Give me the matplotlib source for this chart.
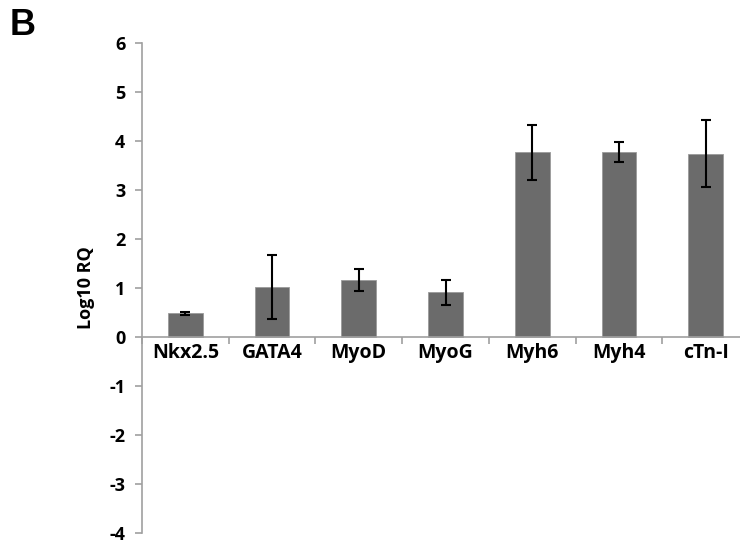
import numpy as np
import matplotlib
matplotlib.use("Agg")
import matplotlib.pyplot as plt

# qPCR expression, log10 relative quantity
genes = ["Nkx2.5", "GATA4", "MyoD", "MyoG", "Myh6", "Myh4", "cTn-I"]
log_rq = [0.48, 1.02, 1.16, 0.91, 3.77, 3.77, 3.74]
err = [0.04, 0.66, 0.22, 0.25, 0.56, 0.20, 0.68]

plt.rcParams['font.family'] = ['Open Sans', 'DejaVu Sans']
plt.rcParams['axes.unicode_minus'] = False

fig = plt.figure(figsize=(7.4, 5.46), dpi=100)
ax = fig.add_axes([0.1919, 0.0238, 0.8203, 0.8974])

x = np.arange(len(genes))
ax.bar(x, log_rq, width=0.4, color="#6b6b6b", edgecolor="#9a9a9a", linewidth=0.6, zorder=2)
ax.errorbar(x, log_rq, yerr=err, fmt="none", ecolor="black", elinewidth=1.5,
            capsize=3.8, capthick=1.5, zorder=3)

ax.set_xlim(-0.5, len(genes) - 0.5)
ax.set_ylim(-4, 6)
ax.set_yticks(range(-4, 7))

for s in ["top", "right"]:
    ax.spines[s].set_visible(False)
ax.spines["bottom"].set_position(("data", 0))
ax.spines["left"].set_color("#a0a0a0")
ax.spines["bottom"].set_color("#a0a0a0")
ax.spines["left"].set_linewidth(1.2)
ax.spines["bottom"].set_linewidth(1.2)

ax.set_xticks(x)
ax.set_xticklabels(genes, fontsize=14, fontweight="bold")
ax.set_xticks(np.arange(-0.5, len(genes)), minor=True)
ax.tick_params(axis="x", which="major", length=0, pad=4)
ax.tick_params(axis="x", which="minor", length=5, color="#a0a0a0", width=1.2)
ax.tick_params(axis="y", length=5, color="#a0a0a0", width=1.2, labelsize=13, pad=7)
for lbl in ax.get_yticklabels():
    lbl.set_fontweight("bold")

ax.set_ylabel("Log10 RQ", fontsize=13, fontweight="bold", labelpad=10)

fig.text(0.013, 0.935, "B", fontsize=26, fontweight="bold", family="Liberation Sans")

fig.savefig("out.png", dpi=100)
